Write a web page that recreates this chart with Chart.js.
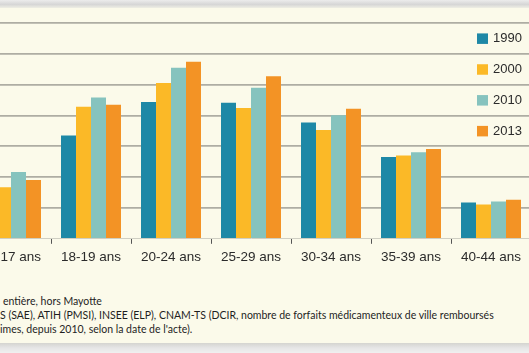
<!DOCTYPE html>
<html>
<head>
<meta charset="utf-8">
<script src="https://cdn.jsdelivr.net/npm/chart.js@4"></script>
<style>
    html, body {
        margin: 0;
        padding: 0;
        width: 529px;
        height: 353px;
        overflow: hidden;
        background: #fbfaea;
        position: relative;
    }
    .ombreHaut {
        position: absolute;
        left: 0; top: 0;
        width: 529px; height: 8px;
        background: linear-gradient(#ececec, #d6d6d6 55%, #eeeee4);
    }
    .ombreBas {
        position: absolute;
        left: 0; top: 343px;
        width: 529px; height: 10px;
        background: linear-gradient(#d4d4d0, #e6e6e6 50%, #f0f0f0);
    }
    #grafico {
        position: absolute;
        left: -60px;
        top: 0;
    }
    .nota {
        position: absolute;
        font-family: Lato, "Noto Sans", sans-serif;
        font-size: 10.5px;
        color: #1e1e1e;
        white-space: nowrap;
    }
</style>
</head>
<body>
<div class="ombreHaut"></div>
<canvas id="grafico" width="620" height="276"></canvas>
<div class="nota" style="left:3px; top:295px;">entière, hors Mayotte</div>
<div class="nota" style="left:0px; top:309px;">S (SAE), ATIH (PMSI), INSEE (ELP), CNAM-TS (DCIR, nombre de forfaits médicamenteux de ville remboursés</div>
<div class="nota" style="left:0px; top:323px;">imes, depuis 2010, selon la date de l'acte).</div>
<div class="ombreBas"></div>
<script>
// Tranches d'âge (la première est coupée à gauche dans l'original)
const categorias = ["15-17 ans", "18-19 ans", "20-24 ans", "25-29 ans", "30-34 ans", "35-39 ans", "40-44 ans"];

// Valeurs (échelle des lignes de grille : 10 par ligne)
const valores1990 = [13.0, 33.5, 44.4, 44.1, 37.7, 26.5, 11.8];
const valores2000 = [16.7, 42.8, 50.5, 42.4, 35.3, 27.0, 11.1];
const valores2010 = [21.7, 45.8, 55.5, 49.0, 40.1, 28.1, 12.1];
const valores2013 = [19.1, 43.5, 57.4, 52.7, 42.2, 29.1, 12.7];

const anos = ["1990", "2000", "2010", "2013"];
const cores = ["#1e88a6", "#fbb927", "#86c3be", "#f39325"];

// Légende dessinée dans la zone du graphique, à droite
const legendaInterna = {
    id: "legendaInterna",
    afterDraw(chart) {
        const ctx = chart.ctx;
        const y = chart.scales.y;
        const xQuadrado = chart.chartArea.right - 54;
        ctx.save();
        ctx.font = "13px 'Liberation Sans', Arial, sans-serif";
        ctx.textBaseline = "middle";
        chart.data.datasets.forEach((ds, i) => {
            const yc = y.getPixelForValue(65 - 10 * i);
            ctx.fillStyle = ds.backgroundColor;
            ctx.fillRect(xQuadrado, yc - 5, 11, 10.5);
            ctx.fillStyle = "#2b2b2b";
            ctx.fillText(ds.label, xQuadrado + 16, yc + 0.5);
        });
        ctx.restore();
    }
};

const seriesValores = [valores1990, valores2000, valores2010, valores2013];

new Chart(document.getElementById("grafico").getContext("2d"), {
    type: "bar",
    data: {
        labels: categorias,
        datasets: anos.map((ano, i) => ({
            label: ano,
            data: seriesValores[i],
            backgroundColor: cores[i],
            borderWidth: 0,
            categoryPercentage: 0.75,
            barPercentage: 1.0
        }))
    },
    options: {
        responsive: false,
        animation: false,
        devicePixelRatio: 1,
        layout: {
            padding: { left: 31, right: 29, top: 23, bottom: 6 }
        },
        plugins: {
            legend: { display: false },
            tooltip: { enabled: false }
        },
        scales: {
            x: {
                grid: {
                    display: true,
                    drawOnChartArea: false,
                    drawTicks: true,
                    tickLength: 5,
                    color: "#555",
                    lineWidth: 1
                },
                border: { display: true, color: "#cfcfc3", width: 1 },
                ticks: {
                    color: "#2b2b2b",
                    padding: 5,
                    font: { family: "'Liberation Sans', Arial, sans-serif", size: 13.5 }
                }
            },
            y: {
                min: 0,
                max: 70,
                ticks: { display: false, stepSize: 10 },
                grid: {
                    drawTicks: false,
                    lineWidth: 1.8,
                    color: (c) => c.tick && c.tick.value === 0 ? "rgba(0,0,0,0)" : "#aeada3"
                },
                border: { display: false }
            }
        }
    },
    plugins: [legendaInterna]
});
</script>
</body>
</html>
